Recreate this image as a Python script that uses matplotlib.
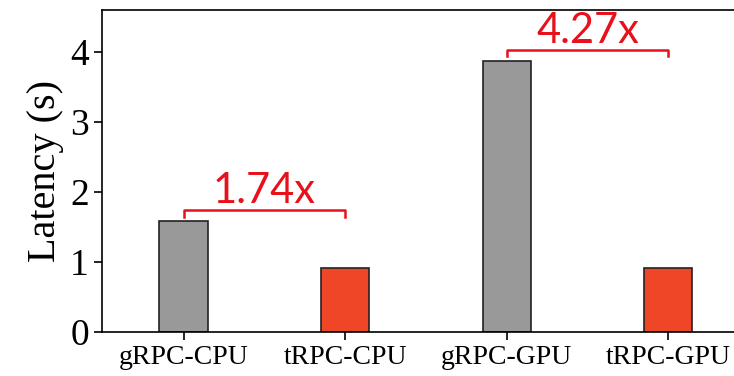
import matplotlib.pyplot as plt

plt.rcParams['font.family'] = 'Liberation Serif'

labels = ['gRPC-CPU', 'tRPC-CPU', 'gRPC-GPU', 'tRPC-GPU']
latency = [1.58, 0.91, 3.87, 0.91]
colors = ['#999999', '#EE4626', '#999999', '#EE4626']

# speedup brackets: (left bar, right bar, bracket height, label)
brackets = [(0, 1, 1.74, '1.74x'), (2, 3, 4.03, '4.27x')]

fig = plt.figure(figsize=(7.34, 3.76), dpi=100)
# axes runs past the right edge, like the cropped original
ax = fig.add_axes([102 / 734, 44 / 376, 647 / 734, 322 / 376])

x = list(range(len(labels)))
ax.bar(x, latency, width=0.3, color=colors, edgecolor='#222222', linewidth=1.2)

for i0, i1, h, txt in brackets:
    ax.plot([i0, i0, i1, i1], [h - 0.09, h, h, h - 0.09], color='#E8101A', lw=1.8)
    ax.text((i0 + i1) / 2, h + 0.1, txt, color='#E8101A', ha='center', va='baseline',
            fontsize=30, family='Lato')

ax.set_xlim(-0.506, 3.5)
ax.set_ylim(0, 4.6)
ax.set_xticks(x)
ax.set_xticklabels(labels, fontsize=20)
ax.set_yticks([0, 1, 2, 3, 4])
ax.tick_params(axis='y', labelsize=27, length=6, width=1.2)
ax.tick_params(axis='x', length=6, width=1.2, pad=3)
ax.set_ylabel('Latency (s)', fontsize=29)
for s in ax.spines.values():
    s.set_linewidth(1.2)

fig.savefig('out.png', dpi=100)
